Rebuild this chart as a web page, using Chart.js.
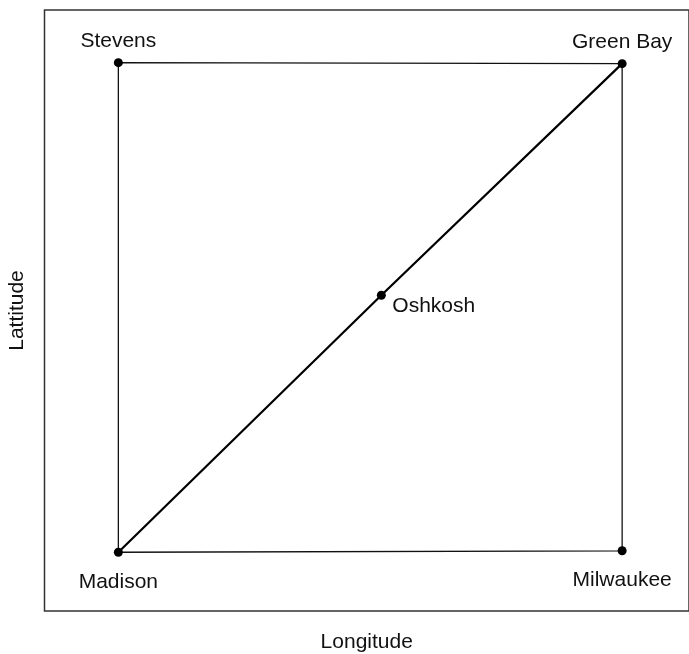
<!DOCTYPE html>
<html>
<head>
<meta charset="utf-8">
<script src="https://cdn.jsdelivr.net/npm/chart.js@4"></script>
<style>
  html, body { margin: 0; padding: 0; background: #fff; }
  canvas { display: block; }
</style>
</head>
<body>
<canvas id="c" width="689" height="654"></canvas>
<script>
// ---- data ----
const cities = ['Stevens', 'Green Bay', 'Oshkosh', 'Madison', 'Milwaukee'];
const longitude = [0, 1, 0.522, 0, 1];
const latitude = [1, 0.998, 0.525, 0, 0.003];
const squareRoute = ['Stevens', 'Green Bay', 'Milwaukee', 'Madison', 'Stevens'];
const diagonalRoute = ['Madison', 'Oshkosh', 'Green Bay'];
const xRange = [-0.1466, 1.1327];
const yRange = [-0.12, 1.1076];
const xTitle = 'Longitude';
const yTitle = 'Lattitude';

// ---- helpers ----
const pt = name => { const i = cities.indexOf(name); return { x: longitude[i], y: latitude[i] }; };
const FONT = '"Liberation Sans", Arial, Helvetica, sans-serif';

// label placement style
const labelStyle = { 'Stevens': 'above', 'Green Bay': 'above', 'Oshkosh': 'right', 'Madison': 'below', 'Milwaukee': 'below' };

const boxPlugin = {
  id: 'box',
  afterDraw(chart) {
    const { ctx, chartArea: a } = chart;
    ctx.save();
    ctx.strokeStyle = '#333';
    ctx.lineWidth = 1.5;
    ctx.strokeRect(a.left, a.top, a.right - a.left, a.bottom - a.top);
    ctx.restore();
  }
};

const labelPlugin = {
  id: 'cityLabels',
  afterDatasetsDraw(chart) {
    const { ctx, scales } = chart;
    ctx.save();
    ctx.font = '21px ' + FONT;
    ctx.fillStyle = '#111';
    ctx.textBaseline = 'alphabetic';
    cities.forEach((c, i) => {
      const px = scales.x.getPixelForValue(longitude[i]);
      const py = scales.y.getPixelForValue(latitude[i]);
      const s = labelStyle[c];
      if (s === 'above') { ctx.textAlign = 'center'; ctx.fillText(c, px, py - 15.5); }
      else if (s === 'below') { ctx.textAlign = 'center'; ctx.fillText(c, px, py + 35.5); }
      else { ctx.textAlign = 'left'; ctx.fillText(c, px + 11, py + 17); }
    });
    ctx.restore();
  }
};

new Chart(document.getElementById('c'), {
  type: 'scatter',
  data: {
    datasets: [
      {
        label: 'points',
        data: cities.map(pt),
        showLine: false,
        pointRadius: 4.5,
        pointBackgroundColor: '#000',
        pointBorderColor: '#000',
        pointBorderWidth: 0,
        order: 0
      },
      {
        label: 'diagonal',
        data: diagonalRoute.map(pt),
        showLine: true,
        borderColor: '#000',
        borderWidth: 2.2,
        pointRadius: 0,
        order: 1
      },
      {
        label: 'square',
        data: squareRoute.map(pt),
        showLine: true,
        borderColor: '#111',
        borderWidth: 1.3,
        pointRadius: 0,
        order: 2
      }
    ]
  },
  options: {
    responsive: false,
    devicePixelRatio: 1,
    animation: false,
    layout: { autoPadding: false, padding: { top: 10, right: 0, left: 0, bottom: 0 } },
    plugins: { legend: { display: false }, tooltip: { enabled: false } },
    scales: {
      x: {
        type: 'linear', min: xRange[0], max: xRange[1],
        ticks: { display: false }, grid: { display: false }, border: { display: false },
        title: { display: true, text: xTitle, color: '#111', font: { family: FONT, size: 21, lineHeight: 1 }, padding: { top: 0, bottom: 1 } },
        afterFit(s) { s.height = 43; }
      },
      y: {
        type: 'linear', min: yRange[0], max: yRange[1],
        ticks: { display: false }, grid: { display: false }, border: { display: false },
        title: { display: true, text: yTitle, color: '#111', font: { family: FONT, size: 21, lineHeight: 1 }, padding: { top: 7, bottom: 0 } },
        afterFit(s) { s.width = 44.5; }
      }
    }
  },
  plugins: [boxPlugin, labelPlugin]
});
</script>
</body>
</html>
